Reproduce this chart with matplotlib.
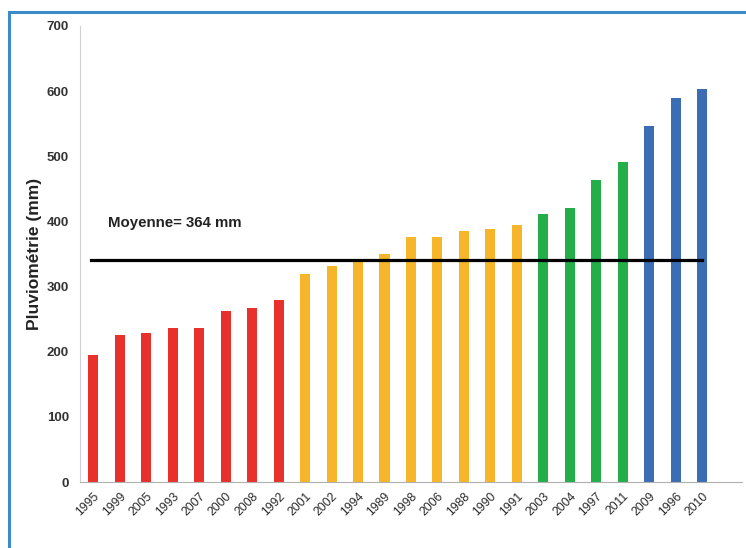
import matplotlib.pyplot as plt
from matplotlib.patches import Rectangle

plt.rcParams["font.family"] = ["Liberation Sans", "DejaVu Sans"]

# data
years = ["1995", "1999", "2005", "1993", "2007", "2000", "2008", "1992",
         "2001", "2002", "1994", "1989", "1998", "2006", "1988", "1990", "1991",
         "2003", "2004", "1997", "2011",
         "2009", "1996", "2010"]
rain_mm = [195, 225, 228, 236, 236, 262, 267, 280,
           320, 332, 340, 350, 376, 376, 385, 388, 395,
           412, 420, 464, 491,
           547, 590, 604]
groups = ["sec"] * 8 + ["moyen"] * 9 + ["humide"] * 4 + ["tres_humide"] * 3
group_colors = {"sec": "#E8312B", "moyen": "#F6B52B",
                "humide": "#23AE4A", "tres_humide": "#3B6DB4"}
mean_line = 341
mean_label = "Moyenne= 364 mm"

fig = plt.figure(figsize=(7.46, 5.48), dpi=100)
ax = fig.add_axes([0.1072, 0.1204, 0.8874, 0.8322])

x = range(len(years))
ax.bar(x, rain_mm, width=0.38, color=[group_colors[g] for g in groups], zorder=2)

ax.plot([-0.1, 23.0], [mean_line, mean_line], color="black", lw=2.3, zorder=3)
ax.text(0.57, 398, mean_label, fontsize=10.8, fontweight="bold", color="#222222",
        va="center", ha="left")

ax.set_xlim(-0.5, 24.5)
ax.set_ylim(0, 700)
ax.set_yticks(range(0, 701, 100))
ax.set_xticks(list(x))
ax.set_xticklabels(years, rotation=45, ha="right", rotation_mode="anchor",
                   fontsize=8.8, color="#2a2a2a")
for lbl in ax.get_yticklabels():
    lbl.set_fontweight("bold")
    lbl.set_fontsize(9.5)
    lbl.set_color("#333333")
ax.tick_params(length=0, pad=6)
ax.tick_params(axis="y", pad=8)
ax.set_ylabel("Pluviométrie (mm)", fontsize=12.5, fontweight="bold", color="#222222",
              labelpad=3)

for side in ["top", "right"]:
    ax.spines[side].set_visible(False)
ax.spines["left"].set_color("#d0d0d0")
ax.spines["bottom"].set_color("#b0b0b0")

# blue frame at left and top of the picture
frame = Rectangle((9 / 746, -0.1), 1.2, 1.1 - 12 / 548, transform=fig.transFigure,
                  fill=False, edgecolor="#3D8AC9", lw=2.2, clip_on=False)
fig.add_artist(frame)

fig.savefig("out.png", dpi=100)
